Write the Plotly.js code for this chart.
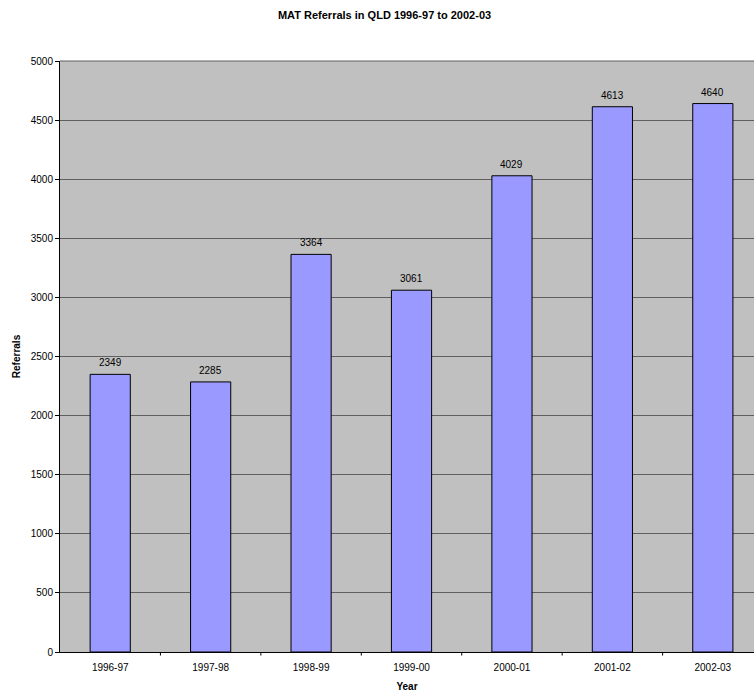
<!DOCTYPE html>
<html><head><meta charset="utf-8">
<script src="https://cdn.plot.ly/plotly-3.0.1.min.js"></script>
<style>html,body{margin:0;padding:0;overflow:hidden;background:#fff;}</style>
</head><body><div id="chart" style="width:754px;height:693px;"></div>
<script>
var years = ["1996-97","1997-98","1998-99","1999-00","2000-01","2001-02","2002-03"];
var referrals = [2349, 2285, 3364, 3061, 4029, 4613, 4640];
var yTicks = [0,500,1000,1500,2000,2500,3000,3500,4000,4500,5000];

var trace = {
  type: "bar",
  x: years,
  y: referrals,
  marker: {color: "#9999FF", line: {color: "#000", width: 1}},
  hoverinfo: "x+y"
};

var layout = {
  width: 754, height: 693,
  margin: {l: 60, r: 0, t: 61, b: 41, pad: 0},
  paper_bgcolor: "#fff",
  plot_bgcolor: "#C0C0C0",
  bargap: 0.6,
  showlegend: false,
  font: {family: "Liberation Sans, Arial, sans-serif", size: 10, color: "#000"},
  title: {text: "<b>MAT Referrals in QLD 1996-97 to 2002-03</b>", x: 0.51, xref: "container", y: 0.978, yref: "container", yanchor: "middle", font: {size: 11}},
  xaxis: {
    type: "category",
    range: [-0.5, 6.41],
    showgrid: false,
    showline: true, linecolor: "#000", linewidth: 1,
    ticks: "outside", ticklen: 6, tickcolor: "rgba(0,0,0,0)", tickfont: {size: 10},
    title: {text: "<b>Year</b>", font: {size: 10}, standoff: 10},
    fixedrange: true
  },
  yaxis: {
    range: [0, 5000],
    tickvals: yTicks,
    ticktext: yTicks.map(String),
    showgrid: true, gridcolor: "#606060", gridwidth: 1,
    zeroline: false,
    showline: true, linecolor: "#000", linewidth: 1,
    ticks: "outside", ticklen: 4, tickcolor: "#000",
    tickfont: {size: 10},
    title: {text: "<b>Referrals</b>", font: {size: 10}, standoff: 8},
    fixedrange: true
  },
  shapes: [
    {type: "line", xref: "paper", yref: "paper", x0: 0, x1: 1, y0: 1, y1: 1, line: {color: "#606060", width: 1}}
  ],
  annotations: years.map(function (yr, i) {
    return {x: yr, y: referrals[i], xref: "x", yref: "y", text: String(referrals[i]),
            showarrow: false, yanchor: "bottom", yshift: 4, font: {size: 10, color: "#000"}};
  })
};

// category boundary tick marks on x axis
for (var i = 0; i < years.length; i++) {
  layout.shapes.push({type: "line", xref: "x", yref: "paper", x0: i + 0.5, x1: i + 0.5, y0: 0, y1: -0.006, line: {color: "#000", width: 1}});
}

Plotly.newPlot("chart", [trace], layout, {displayModeBar: false, staticPlot: true});
</script>
</body></html>
